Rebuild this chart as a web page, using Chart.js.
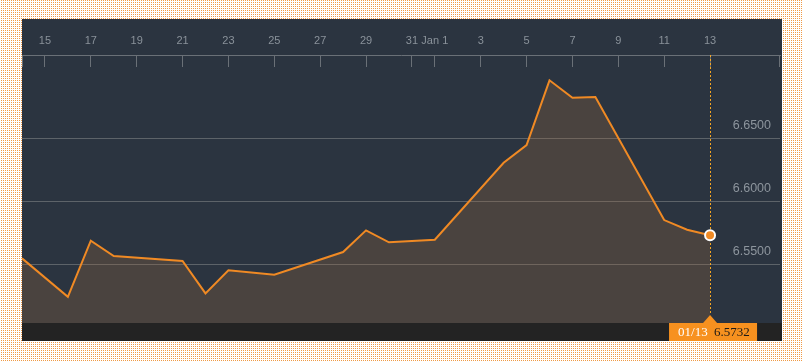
<!DOCTYPE html>
<html>
<head>
<meta charset="utf-8">
<title>USD/CNY</title>
<script src="https://cdn.jsdelivr.net/npm/chart.js@4.4.0/dist/chart.umd.min.js"></script>
<style>
  html, body { margin: 0; padding: 0; }
  body {
    width: 803px; height: 361px; position: relative; overflow: hidden;
    background: conic-gradient(#f09a45 25%, #ffffff 0) 0 0 / 2px 2px;
  }
  #panel { position: absolute; left: 22px; top: 19px; width: 760px; height: 322px; background: #2b3440; }
  canvas { display: block; }
</style>
</head>
<body>
<div id="panel"><canvas id="fxChart" width="760" height="322"></canvas></div>
<script>
// ===== Data =====
const dates = ['2020-12-14', '2020-12-16', '2020-12-17', '2020-12-18', '2020-12-21', '2020-12-22',
  '2020-12-23', '2020-12-25', '2020-12-28', '2020-12-29', '2020-12-30', '2021-01-01',
  '2021-01-04', '2021-01-05', '2021-01-06', '2021-01-07', '2021-01-08', '2021-01-11',
  '2021-01-12', '2021-01-13'];
const rates = [6.5549, 6.5244, 6.5689, 6.5567, 6.5528, 6.5271,
  6.5454, 6.5419, 6.5599, 6.5771, 6.5676, 6.5697,
  6.6308, 6.6448, 6.6962, 6.6824, 6.6829, 6.5853,
  6.5776, 6.5732];

const xTickDates = ['2020-12-15', '2020-12-17', '2020-12-19', '2020-12-21', '2020-12-23', '2020-12-25',
  '2020-12-27', '2020-12-29', '2020-12-31', '2021-01-01', '2021-01-03', '2021-01-05',
  '2021-01-07', '2021-01-09', '2021-01-11', '2021-01-13'];
const xTickLabels = ['15', '17', '19', '21', '23', '25', '27', '29', '31', 'Jan 1', '3', '5', '7', '9', '11', '13'];
const yTickValues = [6.55, 6.60, 6.65];

// days since the first date
const dayOf = d => (Date.parse(d) - Date.parse(dates[0])) / 86400000;
const points = dates.map((d, i) => ({ x: dayOf(d), y: rates[i] }));
const lastIdx = rates.length - 1;

const ORANGE = '#f08a24';

// ===== Extra drawing: axis ticks, dashed marker, value flag =====
const overlay = {
  id: 'overlay',
  beforeDraw(chart) {
    const { ctx, chartArea, width, height } = chart;
    ctx.save();
    ctx.fillStyle = '#232323';
    ctx.fillRect(0, chartArea.bottom, width, height - chartArea.bottom);
    ctx.restore();
  },
  beforeDatasetsDraw(chart) {
    const { ctx, chartArea, scales: { x } } = chart;
    ctx.save();
    ctx.strokeStyle = '#6a7077';
    ctx.lineWidth = 1;
    const marks = x.ticks.map(t => x.getPixelForValue(t.value));
    marks.push(chartArea.left + 0.5, chartArea.right - 0.5);
    marks.forEach(px => {
      const p = Math.round(px - 0.5) + 0.5;
      ctx.beginPath();
      ctx.moveTo(p, chartArea.top);
      ctx.lineTo(p, chartArea.top + 12);
      ctx.stroke();
    });

    const pt = chart.getDatasetMeta(0).data[lastIdx];
    const px = Math.round(pt.x) + 0.5;
    ctx.strokeStyle = '#f5a623';
    ctx.setLineDash([2, 2]);
    ctx.beginPath();
    ctx.moveTo(px, chartArea.top);
    ctx.lineTo(px, chartArea.bottom - 8);
    ctx.stroke();
    ctx.restore();
  },
  afterDatasetsDraw(chart) {
    const { ctx, chartArea, height } = chart;
    const pt = chart.getDatasetMeta(0).data[lastIdx];
    const px = pt.x;
    const top = chartArea.bottom;
    ctx.save();
    ctx.fillStyle = '#f7911f';
    ctx.beginPath();
    ctx.moveTo(px - 7, top);
    ctx.lineTo(px, top - 8);
    ctx.lineTo(px + 7, top);
    ctx.closePath();
    ctx.fill();
    ctx.fillRect(px - 41, top, 88, height - top);

    ctx.font = '13px "Liberation Serif"';
    ctx.textBaseline = 'middle';
    ctx.textAlign = 'left';
    const mid = top + (height - top) / 2 + 1;
    ctx.fillStyle = '#ffffff';
    ctx.fillText(dates[lastIdx].slice(5).replace('-', '/'), px - 32, mid);
    ctx.fillStyle = '#1e1a16';
    ctx.fillText(rates[lastIdx].toFixed(4), px + 4, mid);
    ctx.restore();
  }
};

// ===== Chart =====
new Chart(document.getElementById('fxChart'), {
  type: 'line',
  data: {
    datasets: [{
      data: points,
      borderColor: ORANGE,
      borderWidth: 2,
      backgroundColor: 'rgba(160,110,60,0.265)',
      fill: 'start',
      tension: 0,
      pointRadius: c => (c.dataIndex === lastIdx ? 5 : 0),
      pointHoverRadius: 0,
      pointBackgroundColor: ORANGE,
      pointBorderColor: '#ffffff',
      pointBorderWidth: 2
    }]
  },
  options: {
    responsive: false,
    animation: false,
    devicePixelRatio: 1,
    layout: { autoPadding: false, padding: { left: 0, right: 2, top: 0, bottom: 18 } },
    plugins: { legend: { display: false }, tooltip: { enabled: false } },
    scales: {
      x: {
        type: 'linear',
        position: 'top',
        min: 0,
        max: 33.05,
        afterBuildTicks: s => { s.ticks = xTickDates.map(d => ({ value: dayOf(d) })); },
        afterFit: s => { s.height = 36; s.paddingLeft = 0; s.paddingRight = 0; },
        grid: { display: false, drawTicks: false },
        border: { display: true, color: '#6a7077', width: 1 },
        ticks: {
          padding: 7,
          color: '#8a929a',
          font: { family: 'Liberation Sans', size: 11 },
          maxRotation: 0,
          autoSkip: false,
          callback: (v, i) => xTickLabels[i]
        }
      },
      y: {
        position: 'right',
        min: 6.5036,
        max: 6.7163,
        afterBuildTicks: s => { s.ticks = yTickValues.map(v => ({ value: v })); },
        afterFit: s => { s.width = 0; s.paddingTop = 0; s.paddingBottom = 0; },
        grid: { color: '#5d6369', lineWidth: 1, drawTicks: false },
        border: { display: false },
        ticks: {
          mirror: true,
          padding: -9,
          labelOffset: -12.5,
          color: '#8d959d',
          font: { family: 'Liberation Sans', size: 12.5 },
          callback: v => v.toFixed(4)
        }
      }
    }
  },
  plugins: [overlay]
});
</script>
</body>
</html>
